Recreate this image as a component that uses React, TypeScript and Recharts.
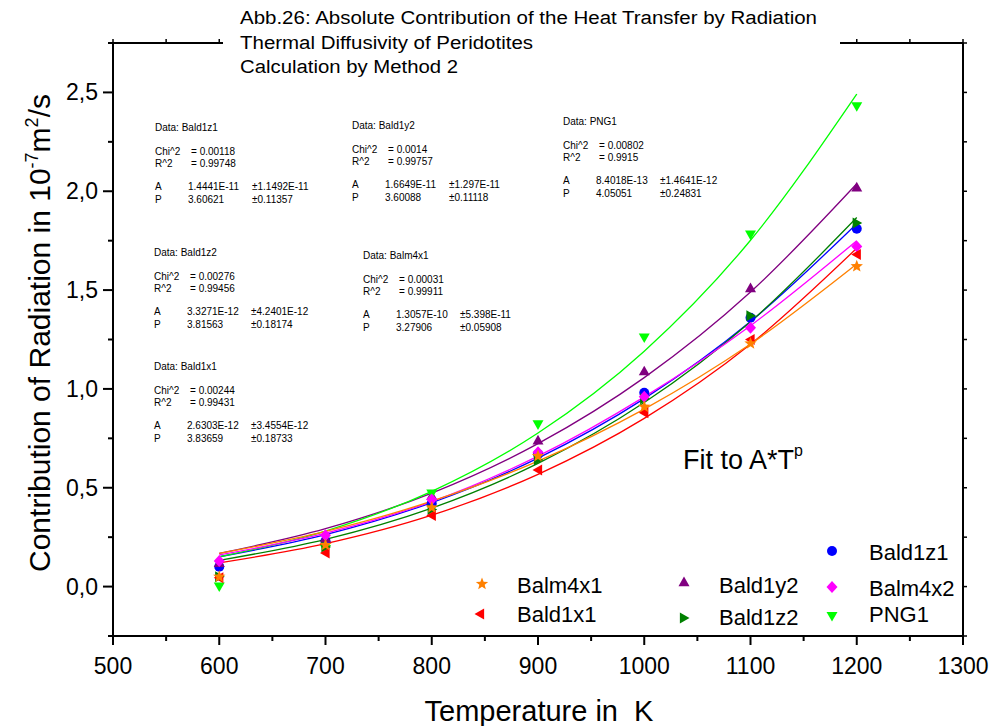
import React from 'react';
import { ComposedChart, Line, Scatter, XAxis, YAxis } from 'recharts';

// temperatures in K
const temps = [600, 700, 800, 900, 1000, 1100, 1200];

// measured radiative contribution, 10^-7 m^2/s
const bald1z1 = [0.1, 0.23, 0.42, 0.67, 0.98, 1.36, 1.81];
const bald1y2 = [0.12, 0.245, 0.46, 0.74, 1.09, 1.51, 2.02];
const png1 = [0.0, 0.19, 0.47, 0.82, 1.26, 1.78, 2.43];
const bald1z2 = [0.05, 0.2, 0.39, 0.64, 0.95, 1.37, 1.84];
const balm4x2 = [0.13, 0.26, 0.44, 0.68, 0.96, 1.31, 1.72];
const bald1x1 = [0.045, 0.17, 0.36, 0.59, 0.88, 1.25, 1.68];
const balm4x1 = [0.05, 0.21, 0.4, 0.66, 0.91, 1.23, 1.62];

// fitted A*T^p curves at the same temperatures
const bald1z1Fit = [0.151, 0.263, 0.425, 0.65, 0.951, 1.341, 1.836];
const bald1y2Fit = [0.168, 0.293, 0.473, 0.723, 1.057, 1.49, 2.038];
const png1Fit = [0.15, 0.281, 0.482, 0.777, 1.191, 1.752, 2.492];
const bald1z2Fit = [0.133, 0.239, 0.397, 0.623, 0.931, 1.34, 1.867];
const balm4x2Fit = [0.16, 0.27, 0.43, 0.66, 0.96, 1.32, 1.75];
const bald1x1Fit = [0.12, 0.217, 0.361, 0.568, 0.851, 1.226, 1.712];
const balm4x1Fit = [0.168, 0.279, 0.432, 0.635, 0.898, 1.227, 1.632];

const xTicks = [500, 550, 600, 650, 700, 750, 800, 850, 900, 950, 1000, 1050, 1100, 1150, 1200, 1250, 1300];
const yTicks = [-0.25, 0, 0.25, 0.5, 0.75, 1, 1.25, 1.5, 1.75, 2, 2.25, 2.5, 2.75];

const titleLines = [
  'Abb.26: Absolute Contribution of the Heat Transfer by Radiation',
  'Thermal Diffusivity of Peridotites',
  'Calculation by Method 2',
];

// fit results: name, chi^2, r^2, A, dA, P, dP, box position
const fitResults = [
  ['Bald1z1', '0.00118', '0.99748', '1.4441E-11', '±1.1492E-11', '3.60621', '±0.11357', 155, 127],
  ['Bald1y2', '0.0014', '0.99757', '1.6649E-11', '±1.297E-11', '3.60088', '±0.11118', 352, 125],
  ['PNG1', '0.00802', '0.9915', '8.4018E-13', '±1.4641E-12', '4.05051', '±0.24831', 563, 121],
  ['Bald1z2', '0.00276', '0.99456', '3.3271E-12', '±4.2401E-12', '3.81563', '±0.18174', 154, 252],
  ['Balm4x1', '0.00031', '0.99911', '1.3057E-10', '±5.398E-11', '3.27906', '±0.05908', 363, 255],
  ['Bald1x1', '0.00244', '0.99431', '2.6303E-12', '±3.4554E-12', '3.83659', '±0.18733', 154, 366],
] as const;

const series = [
  { key: 'bald1z1', name: 'Bald1z1', color: '#0000FF', shape: 'circle', pts: bald1z1, fit: bald1z1Fit },
  { key: 'bald1y2', name: 'Bald1y2', color: '#800080', shape: 'up', pts: bald1y2, fit: bald1y2Fit },
  { key: 'png1', name: 'PNG1', color: '#00FF00', shape: 'down', pts: png1, fit: png1Fit },
  { key: 'bald1z2', name: 'Bald1z2', color: '#008000', shape: 'right', pts: bald1z2, fit: bald1z2Fit },
  { key: 'balm4x2', name: 'Balm4x2', color: '#FF00FF', shape: 'diamond', pts: balm4x2, fit: balm4x2Fit },
  { key: 'bald1x1', name: 'Bald1x1', color: '#FF0000', shape: 'left', pts: bald1x1, fit: bald1x1Fit },
  { key: 'balm4x1', name: 'Balm4x1', color: '#FF8000', shape: 'star', pts: balm4x1, fit: balm4x1Fit },
];

const rows = temps.map((t, i) => {
  const row: Record<string, number> = { t };
  series.forEach((s) => {
    row[s.key] = s.pts[i];
    row[s.key + 'Fit'] = s.fit[i];
  });
  return row;
});

// legend layout: [series key, marker x, marker y, text x, text baseline y]
const legendItems: [string, number, number, number, number][] = [
  ['balm4x1', 482, 584, 517, 593],
  ['bald1x1', 480, 614, 517, 622],
  ['bald1y2', 684, 582, 719, 593],
  ['bald1z2', 684, 618, 719, 625],
  ['bald1z1', 832, 551, 869, 560],
  ['balm4x2', 832, 587, 869, 596],
  ['png1', 832, 616, 869, 622],
];

const FONT = "'Liberation Sans', Arial, sans-serif";

function Marker({ kind, cx, cy, color }: { kind: string; cx: number; cy: number; color: string }) {
  if (cx == null || cy == null) return null;
  const r = 5.5;
  switch (kind) {
    case 'circle':
      return <circle cx={cx} cy={cy} r={5} fill={color} />;
    case 'diamond':
      return <polygon points={`${cx},${cy - r - 0.5} ${cx + r},${cy} ${cx},${cy + r + 0.5} ${cx - r},${cy}`} fill={color} />;
    case 'up':
      return <polygon points={`${cx},${cy - r} ${cx + r},${cy + r * 0.75} ${cx - r},${cy + r * 0.75}`} fill={color} />;
    case 'down':
      return <polygon points={`${cx},${cy + r} ${cx + r},${cy - r * 0.75} ${cx - r},${cy - r * 0.75}`} fill={color} />;
    case 'left':
      return <polygon points={`${cx - r},${cy} ${cx + r * 0.75},${cy - r} ${cx + r * 0.75},${cy + r}`} fill={color} />;
    case 'right':
      return <polygon points={`${cx + r},${cy} ${cx - r * 0.75},${cy - r} ${cx - r * 0.75},${cy + r}`} fill={color} />;
    case 'star': {
      const pts: string[] = [];
      for (let i = 0; i < 10; i++) {
        const rad = i % 2 === 0 ? 6.5 : 2.8;
        const a = -Math.PI / 2 + (i * Math.PI) / 5;
        pts.push(`${cx + rad * Math.cos(a)},${cy + rad * Math.sin(a)}`);
      }
      return <polygon points={pts.join(' ')} fill={color} />;
    }
    default:
      return null;
  }
}

const BottomTick = (props: any) => {
  const { x, y, payload } = props;
  const major = payload.value % 100 === 0;
  return (
    <g>
      <line x1={x} x2={x} y1={y} y2={y + (major ? 9 : 5)} stroke="#000" strokeWidth={2} />
      {major && (
        <text x={x} y={y + 38} textAnchor="middle" fontSize={23} fontFamily={FONT} fill="#000">
          {payload.value}
        </text>
      )}
    </g>
  );
};

const TopTick = (props: any) => {
  const { x, y } = props;
  return <line x1={x} x2={x} y1={y} y2={y - 4} stroke="#000" strokeWidth={1.5} />;
};

const LeftTick = (props: any) => {
  const { x, y, payload } = props;
  const v = payload.value;
  const major = Math.abs(v * 2 - Math.round(v * 2)) < 1e-6;
  const labelled = major && v >= 0 && v <= 2.5;
  return (
    <g>
      <line x1={x} x2={x - (major ? 10 : 5)} y1={y} y2={y} stroke="#000" strokeWidth={2} />
      {labelled && (
        <text x={x - 15} y={y + 8} textAnchor="end" fontSize={23} fontFamily={FONT} fill="#000">
          {v.toFixed(1).replace('.', ',')}
        </text>
      )}
    </g>
  );
};

const RightTick = (props: any) => {
  const { x, y } = props;
  return <line x1={x} x2={x + 4} y1={y} y2={y} stroke="#000" strokeWidth={1.5} />;
};

function FitBox({ r }: { r: (typeof fitResults)[number] }) {
  const [name, chi, r2, a, aErr, p, pErr, x, y] = r;
  const t = { fontSize: 10, fontFamily: FONT, fill: '#000' } as const;
  return (
    <g>
      <text x={x} y={y + 3.5} {...t}>Data: {name}</text>
      <text x={x} y={y + 28} {...t}>Chi^2</text>
      <text x={x + 36} y={y + 28} {...t}>= {chi}</text>
      <text x={x} y={y + 40} {...t}>R^2</text>
      <text x={x + 36} y={y + 40} {...t}>= {r2}</text>
      <text x={x} y={y + 63} {...t}>A</text>
      <text x={x + 33} y={y + 63} {...t}>{a}</text>
      <text x={x + 97} y={y + 63} {...t}>{aErr}</text>
      <text x={x} y={y + 75.5} {...t}>P</text>
      <text x={x + 33} y={y + 75.5} {...t}>{p}</text>
      <text x={x + 97} y={y + 75.5} {...t}>{pErr}</text>
    </g>
  );
}

export default function App() {
  const titleWidths = [577, 293, 218];
  return (
    <div style={{ position: 'absolute', left: 0, top: 0, width: 994, height: 726, background: '#fff' }}>
      <ComposedChart width={994} height={726} data={rows} margin={{ top: 42, right: 30, bottom: 60, left: 53 }}>
        <XAxis
          dataKey="t"
          type="number"
          domain={[500, 1300]}
          ticks={xTicks}
          interval={0}
          height={30}
          tickSize={0}
          tickMargin={0}
          tickLine={false}
          axisLine={{ stroke: '#000', strokeWidth: 2 }}
          tick={BottomTick}
        />
        <XAxis
          xAxisId="top"
          dataKey="t"
          orientation="top"
          type="number"
          domain={[500, 1300]}
          ticks={xTicks}
          interval={0}
          height={1}
          tickSize={0}
          tickMargin={0}
          tickLine={false}
          axisLine={{ stroke: '#000', strokeWidth: 2 }}
          tick={TopTick}
        />
        <YAxis
          type="number"
          domain={[-0.25, 2.75]}
          ticks={yTicks}
          interval={0}
          width={60}
          tickSize={0}
          tickMargin={0}
          tickLine={false}
          axisLine={{ stroke: '#000', strokeWidth: 2 }}
          tick={LeftTick}
        />
        <YAxis
          yAxisId="right"
          orientation="right"
          type="number"
          domain={[-0.25, 2.75]}
          ticks={yTicks}
          interval={0}
          width={1}
          tickSize={0}
          tickMargin={0}
          tickLine={false}
          axisLine={{ stroke: '#000', strokeWidth: 2 }}
          tick={RightTick}
        />
        {/* invisible series so the mirrored frame axes get drawn */}
        <Line
          xAxisId="top"
          yAxisId="right"
          dataKey="png1Fit"
          stroke="none"
          dot={false}
          activeDot={false}
          legendType="none"
          isAnimationActive={false}
        />
        {series.map((s) => (
          <Line
            key={s.key + 'Fit'}
            dataKey={s.key + 'Fit'}
            type="monotone"
            stroke={s.color}
            strokeWidth={1.3}
            dot={false}
            activeDot={false}
            isAnimationActive={false}
          />
        ))}
        {series.map((s) => (
          <Scatter
            key={s.key}
            dataKey={s.key}
            fill={s.color}
            isAnimationActive={false}
            shape={(p: any) => <Marker kind={s.shape} cx={p.cx} cy={p.cy} color={s.color} />}
          />
        ))}
      </ComposedChart>

      <svg width={994} height={726} style={{ position: 'absolute', left: 0, top: 0, pointerEvents: 'none' }}>
        {/* title block sits over the top frame line */}
        <rect x={223} y={34} width={617} height={18} fill="#fff" />
        {titleLines.map((line, i) => (
          <text
            key={i}
            x={240}
            y={24 + i * 24.5}
            fontSize={18}
            fontFamily={FONT}
            fill="#000"
            textLength={titleWidths[i]}
            lengthAdjust="spacingAndGlyphs"
          >
            {line}
          </text>
        ))}

        {fitResults.map((r) => (
          <FitBox key={r[0]} r={r} />
        ))}

        <text x={683} y={469} fontSize={27} fontFamily={FONT} fill="#000">
          Fit to A*T
          <tspan fontSize={16} dy={-13}>p</tspan>
        </text>

        {legendItems.map(([key, mx, my, tx, ty]) => {
          const s = series.find((d) => d.key === key)!;
          return (
            <g key={key}>
              <Marker kind={s.shape} cx={mx} cy={my} color={s.color} />
              <text x={tx} y={ty} fontSize={22} fontFamily={FONT} fill="#000">
                {s.name}
              </text>
            </g>
          );
        })}

        <text x={539} y={721} textAnchor="middle" fontSize={29} fontFamily={FONT} fill="#000">
          Temperature in{'\u00a0\u00a0'}K
        </text>
        <text
          transform="translate(50,333) rotate(-90)"
          textAnchor="middle"
          fontSize={30}
          fontFamily={FONT}
          fill="#000"
        >
          Contribution of Radiation in 10
          <tspan fontSize={18} dy={-12}>-7</tspan>
          <tspan dy={12}>m</tspan>
          <tspan fontSize={18} dy={-12}>2</tspan>
          <tspan dy={12}>/s</tspan>
        </text>
      </svg>
    </div>
  );
}
